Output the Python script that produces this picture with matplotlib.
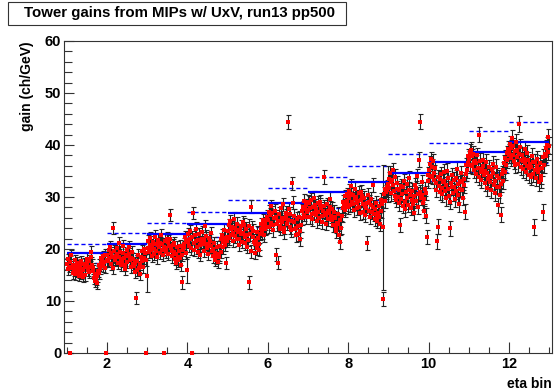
import matplotlib
matplotlib.use("Agg")
import matplotlib.pyplot as plt
from matplotlib.patches import Rectangle
from matplotlib.ticker import MultipleLocator
import numpy as np

plt.rcParams['font.family'] = ['Liberation Sans', 'DejaVu Sans']
plt.rcParams['font.weight'] = 'bold'

# eta bins 1..12, 60 phi towers in each bin
eta_bins = [1, 2, 3, 4, 5, 6, 7, 8, 9, 10, 11, 12]
n_phi = 60

# blue reference levels per eta bin (ch/GeV)
level = [19.2, 21.0, 22.9, 24.8, 26.9, 28.9, 30.9, 32.8, 34.7, 36.8, 38.7, 40.6]
level_hi = [21.0, 23.1, 25.0, 27.2, 29.4, 31.7, 33.9, 36.0, 38.2, 40.4, 42.6, 44.5]
level_lo = [17.3, 18.9, 20.6, 22.3, 24.2, 26.0, 27.8, 29.5, 31.2, 33.1, 34.8, 36.5]

# tower gains, one list per eta bin (phi order)
gain_eta1 = [17.2, 16.1, 18.0, 16.6, 0.0, 17.5, 18.8, 16.3, 15.4, 17.0,
             16.0, 17.8, 15.1, 16.7, 17.3, 15.8, 16.4, 14.9, 15.6, 16.9,
             17.6, 15.3, 16.2, 14.7, 15.9, 17.1, 16.5, 15.0, 16.8, 18.1,
             17.4, 16.0, 15.5, 17.7, 16.6, 18.4, 19.5, 17.0, 15.8, 16.3,
             14.4, 13.8, 15.2, 14.1, 13.5, 14.8, 15.7, 16.9, 15.4, 16.2,
             17.3, 18.2, 17.9, 16.7, 18.6, 17.5, 16.4, 18.9, 0.0, 17.8]
gain_eta2 = [18.9, 17.6, 19.8, 18.2, 20.4, 17.1, 19.3, 18.5, 16.4, 24.0,
             19.6, 17.8, 18.0, 18.7, 20.1, 19.0, 17.3, 18.4, 21.2, 19.5,
             18.1, 16.9, 17.7, 19.2, 20.6, 18.3, 17.0, 16.2, 18.8, 19.9,
             17.5, 18.6, 20.3, 19.1, 17.9, 16.6, 18.2, 19.4, 17.2, 18.0,
             16.8, 15.6, 17.4, 10.5, 16.0, 17.7, 18.9, 16.3, 15.2, 17.1,
             18.4, 19.7, 17.6, 16.5, 18.3, 20.0, 19.2, 17.8, 0.0, 14.8]
gain_eta3 = [20.2, 21.5, 19.4, 20.8, 22.1, 19.9, 18.7, 20.5, 21.3, 19.1,
             20.0, 22.4, 21.0, 19.6, 18.4, 20.7, 21.8, 20.3, 19.3, 21.1,
             22.6, 20.9, 19.8, 18.9, 20.4, 0.0, 21.6, 19.5, 20.1, 22.0,
             21.4, 19.0, 20.6, 21.9, 26.5, 20.2, 19.7, 18.6, 20.8, 21.2,
             19.4, 18.1, 17.4, 19.0, 20.3, 18.5, 17.8, 19.6, 18.2, 20.5,
             16.9, 13.6, 18.8, 19.9, 21.0, 20.4, 22.3, 21.7, 19.3, 16.0]
gain_eta4 = [21.4, 22.8, 20.6, 23.5, 21.9, 20.1, 22.3, 0.0, 26.9, 21.1,
             19.8, 22.6, 23.9, 21.5, 20.3, 19.4, 21.8, 22.9, 20.7, 18.8,
             21.3, 23.2, 22.0, 20.9, 19.6, 21.7, 24.4, 22.5, 21.0, 20.2,
             19.1, 20.8, 22.1, 21.6, 23.0, 20.5, 19.7, 18.6, 20.0, 21.2,
             19.3, 17.9, 18.4, 20.4, 19.0, 17.5, 18.5, 18.9, 20.6, 19.5,
             21.9, 22.7, 20.3, 21.4, 23.6, 22.2, 20.8, 17.3, 21.5, 22.4]
gain_eta5 = [23.4, 24.6, 22.1, 25.3, 23.8, 22.7, 24.2, 21.6, 23.1, 25.8,
             24.0, 22.5, 23.7, 21.9, 24.9, 23.3, 22.0, 20.8, 23.6, 24.4,
             22.9, 21.4, 23.0, 25.1, 24.7, 22.3, 21.1, 23.9, 22.6, 20.4,
             21.8, 13.6, 24.5, 22.8, 19.6, 28.1, 24.1, 23.5, 22.4, 21.3,
             20.9, 19.3, 21.7, 23.2, 20.1, 22.2, 21.0, 19.9, 22.9, 23.8,
             24.8, 23.1, 25.5, 24.3, 22.6, 23.9, 25.0, 24.2, 26.2, 25.6]
gain_eta6 = [25.6, 27.1, 24.3, 26.5, 28.2, 25.0, 26.9, 24.7, 23.6, 25.9,
             27.4, 26.2, 18.9, 24.8, 17.4, 25.3, 26.7, 23.9, 24.5, 27.8,
             26.0, 25.2, 28.6, 24.1, 23.3, 25.7, 27.0, 26.4, 24.9, 44.4,
             25.5, 27.6, 26.8, 24.2, 23.7, 25.4, 32.6, 28.9, 26.3, 25.1,
             23.8, 22.6, 24.0, 25.8, 22.9, 24.4, 26.1, 23.5, 21.9, 24.6,
             25.9, 27.3, 28.0, 26.6, 29.3, 27.7, 26.2, 28.4, 27.2, 29.0]
gain_eta7 = [27.5, 28.8, 26.2, 27.9, 29.4, 26.8, 25.7, 28.1, 27.0, 29.9,
             28.4, 26.5, 27.6, 25.4, 28.9, 27.2, 26.0, 28.5, 29.1, 27.8,
             26.4, 25.2, 27.3, 28.2, 33.8, 27.0, 26.6, 24.9, 28.6, 27.4,
             25.8, 26.9, 29.6, 28.0, 26.3, 27.7, 25.5, 24.6, 26.1, 27.1,
             25.9, 24.3, 23.4, 25.0, 26.7, 24.8, 22.6, 25.6, 21.3, 24.1,
             26.4, 27.9, 29.0, 28.3, 30.1, 27.5, 28.7, 30.5, 29.2, 28.1]
gain_eta8 = [29.8, 31.2, 28.4, 30.6, 32.1, 29.0, 30.3, 28.7, 27.5, 29.6,
             31.5, 30.0, 28.9, 27.8, 29.3, 30.8, 28.1, 26.9, 29.5, 31.0,
             30.2, 28.6, 27.2, 29.9, 28.3, 26.6, 27.9, 21.2, 28.8, 30.4,
             29.1, 27.4, 26.2, 28.5, 29.7, 27.1, 32.3, 28.0, 26.8, 25.7,
             27.6, 28.9, 26.4, 25.3, 27.0, 28.2, 26.1, 24.9, 27.3, 29.4,
             28.7, 10.4, 24.2, 30.5, 31.6, 29.2, 30.9, 32.0, 31.3, 32.5]
gain_eta9 = [33.5, 31.8, 34.6, 32.9, 30.7, 33.2, 35.1, 32.4, 31.1, 33.9,
             30.2, 29.4, 31.6, 32.7, 30.0, 28.8, 31.3, 24.6, 29.7, 32.1,
             30.5, 28.3, 31.9, 33.0, 29.1, 27.6, 30.9, 32.5, 29.8, 28.5,
             31.4, 33.6, 30.3, 27.9, 29.5, 31.2, 28.7, 26.9, 30.1, 32.3,
             29.3, 31.7, 34.0, 30.6, 28.1, 37.2, 44.5, 31.0, 29.9, 32.8,
             30.4, 28.9, 27.3, 29.6, 31.5, 30.8, 26.4, 22.3, 33.1, 34.3]
gain_eta10 = [35.2, 36.4, 34.1, 37.3, 35.8, 33.9, 36.9, 34.7, 33.2, 35.5,
              32.6, 31.4, 21.5, 33.8, 24.3, 32.2, 30.9, 33.5, 34.4, 31.8,
              30.5, 32.9, 34.9, 33.1, 31.2, 29.8, 32.4, 35.0, 33.6, 31.6,
              30.2, 29.1, 24.0, 32.7, 34.2, 31.9, 30.7, 33.3, 32.0, 29.6,
              31.1, 33.7, 35.4, 32.5, 30.4, 28.6, 31.5, 33.0, 34.6, 32.8,
              31.3, 29.9, 32.3, 33.4, 27.2, 34.5, 36.1, 35.1, 37.8, 36.5]
gain_eta11 = [37.4, 38.6, 36.2, 39.1, 37.8, 35.9, 38.3, 36.7, 35.1, 37.0,
              34.4, 36.5, 38.0, 35.6, 33.8, 42.0, 36.9, 34.9, 33.2, 35.4,
              37.2, 36.0, 34.2, 32.6, 35.0, 36.8, 34.6, 31.7, 33.5, 35.7,
              34.1, 32.9, 31.4, 33.9, 35.3, 36.3, 34.7, 32.3, 30.8, 33.1,
              35.8, 34.0, 32.0, 28.4, 33.6, 31.9, 30.3, 26.6, 32.5, 34.5,
              33.0, 35.2, 36.6, 34.8, 37.5, 36.1, 38.4, 37.1, 39.3, 38.0]
gain_eta12 = [38.6, 40.2, 37.5, 39.4, 41.3, 38.1, 39.8, 37.0, 36.2, 38.9,
              40.6, 39.0, 37.7, 36.4, 38.3, 44.0, 39.6, 37.2, 35.8, 38.0,
              36.9, 35.3, 37.4, 39.2, 36.6, 34.8, 36.0, 38.5, 37.1, 35.5,
              34.3, 36.3, 33.9, 35.7, 37.9, 36.7, 34.5, 24.2, 35.1, 36.8,
              33.6, 35.9, 37.3, 34.9, 32.8, 35.4, 36.5, 34.1, 33.3, 35.6,
              37.6, 27.1, 36.1, 38.2, 39.5, 37.8, 40.0, 38.7, 41.6, 39.9]

gains = [gain_eta1, gain_eta2, gain_eta3, gain_eta4, gain_eta5, gain_eta6,
         gain_eta7, gain_eta8, gain_eta9, gain_eta10, gain_eta11, gain_eta12]

# typical error per eta bin, plus a few towers with large errors
typical_err = [1.1, 1.15, 1.2, 1.2, 1.25, 1.3, 1.3, 1.35, 1.4, 1.45, 1.5, 1.55]
big_err = {(2, 59): 3.0, (3, 59): 2.5, (8, 52): 12.0, (8, 59): 3.5}

W, H = 555, 391
fig = plt.figure(figsize=(W / 100, H / 100), dpi=100)
ax = fig.add_axes([64 / W, 1 - 353 / H, 488 / W, 312 / H])

for k, eta in enumerate(eta_bins):
    ax.hlines(level[k], eta, eta + 1, color='#0000ff', lw=1.6, zorder=4)
    ax.hlines(level_hi[k], eta, eta + 1, color='#0000ff', lw=1.0,
              linestyles=(0, (3, 2)), zorder=2)
    ax.hlines(level_lo[k], eta, eta + 1, color='#0000ff', lw=1.0,
              linestyles=(0, (3, 2)), zorder=2)

for k, eta in enumerate(eta_bins):
    x = eta + (np.arange(n_phi) + 0.5) / n_phi
    y = np.array(gains[k])
    err = np.full(n_phi, typical_err[k])
    for (b, i), e in big_err.items():
        if b == eta:
            err[i] = e
    err[y == 0] = 0
    ax.errorbar(x, y, yerr=err, fmt='none', ecolor='#222222', elinewidth=0.8,
                capsize=1.8, capthick=0.8, zorder=3, clip_on=False)
    ax.plot(x, y, 's', ms=3.2, color='#ff0000', mec='#ff0000', mew=0,
            zorder=5, clip_on=False)

ax.set_xlim(0.93, 13.07)
ax.set_ylim(0, 60)
ax.xaxis.set_major_locator(MultipleLocator(2))
ax.xaxis.set_minor_locator(MultipleLocator(0.5))
ax.yaxis.set_major_locator(MultipleLocator(10))
ax.yaxis.set_minor_locator(MultipleLocator(2))
ax.tick_params(direction='in', which='both', top=False, right=False,
               labelsize=10.5, color='#333333', width=0.8)
ax.tick_params(axis='x', which='major', length=8, pad=3)
ax.tick_params(axis='x', which='minor', length=4.5)
ax.tick_params(axis='y', which='major', length=7, pad=2)
ax.tick_params(axis='y', which='minor', length=6)
for lab in ax.get_xticklabels() + ax.get_yticklabels():
    lab.set_fontweight('bold')
for s in ax.spines.values():
    s.set_linewidth(0.8)
    s.set_color('#333333')

ax.set_ylabel('gain (ch/GeV)', fontsize=10, fontweight='bold', loc='top')
ax.yaxis.set_label_coords(-0.062, 1.0)
ax.set_xlabel('eta bin', fontsize=10, fontweight='bold', loc='right')
ax.xaxis.set_label_coords(1.0, -0.078)

# title box in the top-left corner
fig.patches.append(Rectangle((8 / W, 1 - 25 / H), 338 / W, 23 / H,
                             transform=fig.transFigure, facecolor='white',
                             edgecolor='#333333', lw=0.8))
fig.text(180 / W, 1 - 13.5 / H, 'Tower gains from MIPs w/ UxV, run13 pp500',
         ha='center', va='center', fontsize=10.8, fontweight='bold')

fig.savefig('out.png', dpi=100)
